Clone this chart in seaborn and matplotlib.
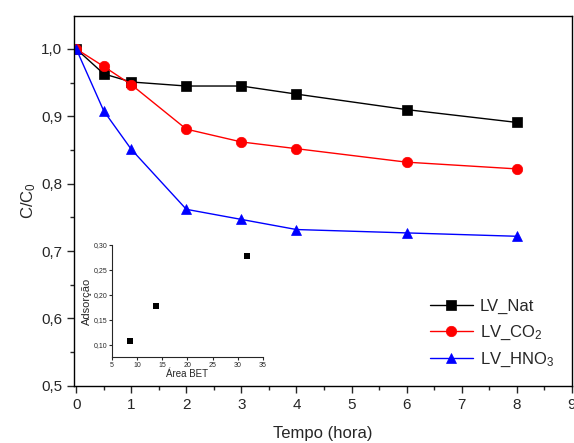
import numpy as np
import pandas as pd
import seaborn as sns
import matplotlib
matplotlib.use("Agg")
from matplotlib import pyplot as plt
from matplotlib.ticker import MultipleLocator, FuncFormatter

# data
tempo = [0, 0.5, 1, 2, 3, 4, 6, 8]
lv_nat = [1.0, 0.963, 0.951, 0.945, 0.945, 0.933, 0.910, 0.891]
lv_co2 = [1.0, 0.974, 0.947, 0.881, 0.862, 0.852, 0.832, 0.822]
lv_hno3 = [1.0, 0.908, 0.851, 0.762, 0.747, 0.732, 0.727, 0.722]
series_names = ["LV_Nat", "LV_CO$_2$", "LV_HNO$_3$"]

area_bet = [8.5, 13.7, 31.8]
adsorcao = [0.108, 0.177, 0.278]

sns.set_style("ticks")
plt.rcParams["font.family"] = ["Liberation Sans", "DejaVu Sans"]
plt.rcParams["mathtext.default"] = "regular"

df = pd.DataFrame({
    "tempo": tempo * 3,
    "cc0": lv_nat + lv_co2 + lv_hno3,
    "serie": np.repeat(series_names, len(tempo)),
})

fig = plt.figure(figsize=(5.74, 4.43), dpi=100)
ax = fig.add_axes([0.129, 0.129, 0.867, 0.835])

palette = dict(zip(series_names, ["black", "red", "blue"]))
markers = dict(zip(series_names, ["s", "o", "^"]))
sizes = {"LV_Nat": 6.5, "LV_CO$_2$": 7.5, "LV_HNO$_3$": 7.5}

for name in series_names:
    sub = df[df["serie"] == name]
    sns.lineplot(data=sub, x="tempo", y="cc0", ax=ax, color=palette[name],
                 marker=markers[name], markersize=sizes[name],
                 markeredgecolor=palette[name], markeredgewidth=0.5,
                 linewidth=1, label=name)

def comma(v, pos):
    return f"{v:.1f}".replace(".", ",")

ax.set_xlim(-0.04, 9)
ax.set_ylim(0.5, 1.049)
ax.xaxis.set_major_locator(MultipleLocator(1))
ax.xaxis.set_minor_locator(MultipleLocator(0.5))
ax.yaxis.set_major_locator(MultipleLocator(0.1))
ax.yaxis.set_minor_locator(MultipleLocator(0.05))
ax.yaxis.set_major_formatter(FuncFormatter(comma))
ax.tick_params(which="major", length=5, width=1, labelsize=11, direction="out")
ax.tick_params(which="minor", length=3, width=1, direction="out")
for sp in ax.spines.values():
    sp.set_linewidth(1)
    sp.set_color("black")
ax.set_xlabel("Tempo (hora)", fontsize=12, labelpad=10)
ax.set_ylabel("C/C$_0$", fontsize=12, labelpad=2)

leg = ax.legend(loc="lower right", bbox_to_anchor=(0.995, 0.005), frameon=False,
                fontsize=12, handlelength=2.6, labelspacing=0.55, handletextpad=0.4)

# inset
ins = fig.add_axes([0.195, 0.194, 0.263, 0.253])
sns.scatterplot(x=area_bet, y=adsorcao, ax=ins, marker="s", color="black",
                s=18, edgecolor="black", linewidth=0)
ins.set_xlim(5, 35)
ins.set_ylim(0.075, 0.30)
ins.xaxis.set_major_locator(MultipleLocator(5))
ins.yaxis.set_major_locator(MultipleLocator(0.05))
ins.yaxis.set_major_formatter(FuncFormatter(lambda v, p: f"{v:.2f}".replace(".", ",")))
ins.tick_params(labelsize=5, length=2, width=0.8, pad=1.5)
ins.spines["top"].set_visible(False)
ins.spines["right"].set_visible(False)
ins.patch.set_alpha(0)
ins.set_xlabel("Área BET", fontsize=7, labelpad=0)
ins.set_ylabel("Adsorção", fontsize=8, labelpad=1)

fig.savefig("out.png", dpi=100)
